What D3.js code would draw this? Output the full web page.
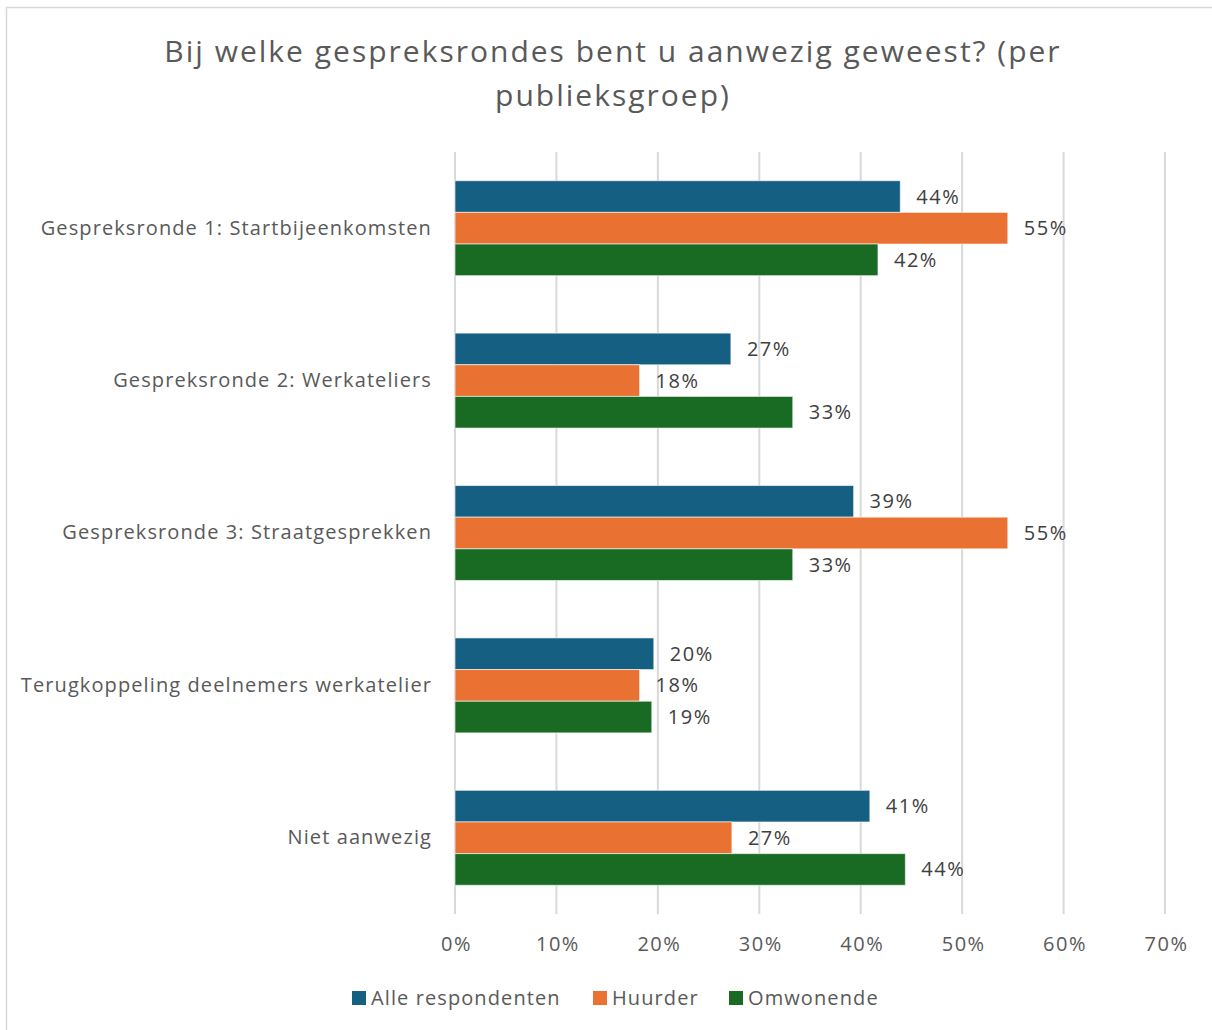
<!DOCTYPE html>
<html>
<head>
<meta charset="utf-8">
<script src="https://cdn.jsdelivr.net/npm/d3@7"></script>
<style>
  body { margin: 0; background: #fff; }
  svg text { font-family: "Open Sans", "Liberation Sans", sans-serif; }
</style>
</head>
<body>
<div id="chart"></div>
<script>
// data
var categories = [
  "Gespreksronde 1: Startbijeenkomsten",
  "Gespreksronde 2: Werkateliers",
  "Gespreksronde 3: Straatgesprekken",
  "Terugkoppeling deelnemers werkatelier",
  "Niet aanwezig"
];
var seriesNames = ["Alle respondenten", "Huurder", "Omwonende"];
var alleValues = [43.9, 27.2, 39.3, 19.6, 40.9];
var huurderValues = [54.5, 18.2, 54.5, 18.2, 27.3];
var omwonendeValues = [41.7, 33.3, 33.3, 19.4, 44.4];
var xTicks = [0, 10, 20, 30, 40, 50, 60, 70];
var colors = ["#156082", "#E97132", "#196B24"];

var W = 1212, H = 1030;
var svg = d3.select("#chart").append("svg")
  .attr("width", W)
  .attr("height", H);

// outer chart border (only top/left visible in picture)
svg.append("rect")
  .attr("x", 6.5).attr("y", 7.5)
  .attr("width", W + 10).attr("height", H + 10)
  .attr("fill", "#fff")
  .attr("stroke", "#d9d9d9")
  .attr("stroke-width", 1.5);

// title
var title = svg.append("text")
  .attr("text-anchor", "middle")
  .attr("fill", "#595959")
  .style("font-size", "30px")
  .style("letter-spacing", "2px");
title.append("tspan").attr("x", 613).attr("y", 62).text("Bij welke gespreksrondes bent u aanwezig geweest? (per");
title.append("tspan").attr("x", 613).attr("y", 106).text("publieksgroep)");

var x = d3.scaleLinear().domain([0, 70]).range([455, 1165]);
var y = d3.scaleBand().domain(categories).range([152, 914]).paddingInner(0.377).paddingOuter(0.1885);
var ySub = d3.scaleBand().domain(seriesNames).range([0, y.bandwidth()]);

// gridlines
svg.append("g").selectAll("line")
  .data(xTicks)
  .enter().append("line")
  .attr("x1", function(d) { return x(d); })
  .attr("x2", function(d) { return x(d); })
  .attr("y1", 152)
  .attr("y2", 914)
  .attr("stroke", "#d9d9d9")
  .attr("stroke-width", 2);

// x axis labels
var xAxis = d3.axisBottom(x)
  .tickValues(xTicks)
  .tickSize(0)
  .tickPadding(0)
  .tickFormat(function(d) { return d + "%"; });
var gx = svg.append("g")
  .attr("transform", "translate(1,936)")
  .call(xAxis);
gx.select(".domain").remove();
gx.selectAll("text")
  .attr("fill", "#595959")
  .style("font-size", "20px")
  .style("letter-spacing", "1.5px")
  .attr("dy", "0.75em");

// category labels
var yAxis = d3.axisLeft(y).tickSize(0).tickPadding(0);
var gy = svg.append("g")
  .attr("transform", "translate(432,0)")
  .call(yAxis);
gy.select(".domain").remove();
gy.selectAll("text")
  .attr("fill", "#595959")
  .style("font-size", "20px")
  .style("letter-spacing", "1.1px");

var allSeries = [alleValues, huurderValues, omwonendeValues];
var rows = [];
categories.forEach(function(c, i) {
  seriesNames.forEach(function(s, j) {
    rows.push({ cat: c, series: s, idx: j, value: allSeries[j][i] });
  });
});

var bars = svg.append("g");
bars.selectAll("rect")
  .data(rows)
  .enter().append("rect")
  .attr("x", x(0))
  .attr("y", function(d) { return y(d.cat) + ySub(d.series); })
  .attr("width", function(d) { return x(d.value) - x(0); })
  .attr("height", ySub.bandwidth())
  .attr("fill", function(d) { return colors[d.idx]; })
  .attr("stroke", "#fff")
  .attr("stroke-opacity", 0.6)
  .attr("stroke-width", 1);

// data labels
bars.selectAll("text")
  .data(rows)
  .enter().append("text")
  .attr("x", function(d) { return x(d.value) + 16; })
  .attr("y", function(d) { return y(d.cat) + ySub(d.series) + ySub.bandwidth() / 2; })
  .attr("dy", "0.35em")
  .attr("fill", "#404040")
  .style("font-size", "20px")
  .style("letter-spacing", "1.5px")
  .text(function(d) { return Math.round(d.value) + "%"; });

// legend
var legendX = [352, 593, 729];
var legend = svg.append("g").selectAll("g")
  .data(seriesNames)
  .enter().append("g")
  .attr("transform", function(d, i) { return "translate(" + legendX[i] + ",991)"; });
legend.append("rect")
  .attr("width", 14).attr("height", 14)
  .attr("fill", function(d, i) { return colors[i]; });
legend.append("text")
  .attr("x", 19).attr("y", 7)
  .attr("dy", "0.35em")
  .attr("fill", "#595959")
  .style("font-size", "20px")
  .style("letter-spacing", "1.1px")
  .text(function(d) { return d; });
</script>
</body>
</html>
